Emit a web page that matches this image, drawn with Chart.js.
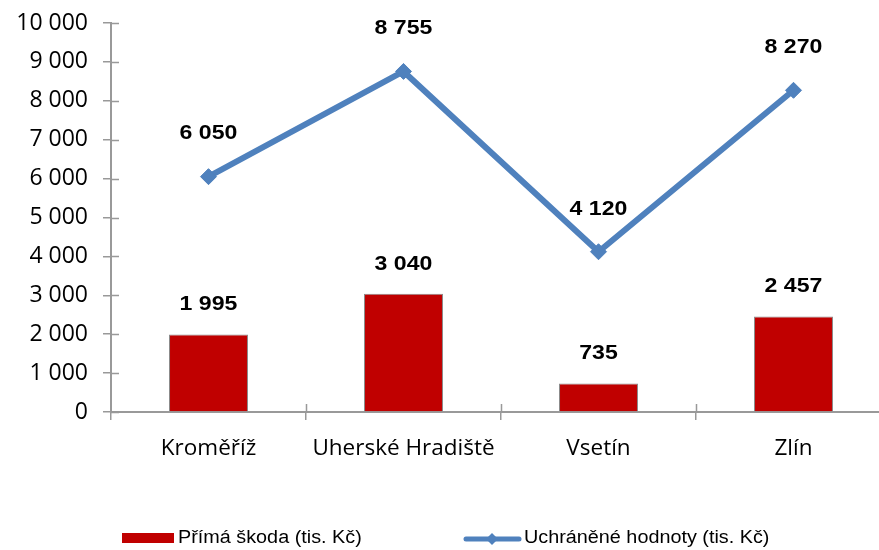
<!DOCTYPE html>
<html lang="cs">
<head>
    <meta charset="UTF-8">
    <title>Škody a uchráněné hodnoty</title>
    <style>
        html, body { margin: 0; padding: 0; background: #fff; overflow: hidden; }
        #wrap { width: 900px; height: 550px; }
    </style>
</head>
<body>
    <div id="wrap">
        <canvas id="chart" width="900" height="550"></canvas>
    </div>
    <script src="https://cdn.jsdelivr.net/npm/chart.js@4/dist/chart.umd.min.js"></script>
    <script>
        const categories = ['Kroměříž', 'Uherské Hradiště', 'Vsetín', 'Zlín']
        const primaSkoda = [1995, 3040, 735, 2457]
        const uchraneneHodnoty = [6050, 8755, 4120, 8270]
        const yTicks = [0, 1000, 2000, 3000, 4000, 5000, 6000, 7000, 8000, 9000, 10000]

        const seriesNames = ['Přímá škoda (tis. Kč)', 'Uchráněné hodnoty (tis. Kč)']
        const barColor = '#C00000'
        const lineColor = '#4F81BD'
        const axisColor = '#999999'

        function fmt(v){
            return String(v).replace(/\B(?=(\d{3})+(?!\d))/g, ' ')
        }

        function stretchText(ctx, text, x, y, sx, align){
            ctx.save()
            ctx.translate(x, y)
            ctx.scale(sx, 1)
            ctx.textAlign = align
            ctx.fillText(text, 0, 0)
            ctx.restore()
        }

        // hodnoty nad body a sloupci
        const valueLabels = {
            id: 'valueLabels',
            afterDatasetsDraw(chart){
                const ctx = chart.ctx
                ctx.save()
                ctx.font = 'bold 21px "Liberation Sans", Arial, sans-serif'
                ctx.fillStyle = '#000'
                ctx.textBaseline = 'middle'
                chart.data.datasets.forEach((ds, i) => {
                    const meta = chart.getDatasetMeta(i)
                    const off = ds.type === 'line' ? 43 : 30
                    meta.data.forEach((el, j) => {
                        stretchText(ctx, fmt(ds.data[j]), el.x, el.y - off, 1.1, 'center')
                    })
                })
                ctx.restore()
            }
        }

        // krátké značky přes osy (dovnitř grafu)
        const innerTicks = {
            id: 'innerTicks',
            afterDraw(chart){
                const ctx = chart.ctx
                const area = chart.chartArea
                const y = chart.scales.y
                ctx.save()
                ctx.strokeStyle = axisColor
                ctx.lineWidth = 1.5
                ctx.beginPath()
                yTicks.forEach(t => {
                    const py = Math.round(y.getPixelForValue(t)) + 0.5
                    ctx.moveTo(area.left, py)
                    ctx.lineTo(area.left + 8, py)
                })
                const step = (area.right - area.left) / categories.length
                for(let k = 1; k < categories.length; k++){
                    const px = Math.round(area.left + step * k) + 0.5
                    ctx.moveTo(px, area.bottom)
                    ctx.lineTo(px, area.bottom - 8)
                }
                ctx.stroke()
                ctx.restore()
            }
        }

        // vlastní legenda dole
        const bottomLegend = {
            id: 'bottomLegend',
            afterDraw(chart){
                const ctx = chart.ctx
                const cy = 538
                ctx.save()
                ctx.fillStyle = barColor
                ctx.fillRect(122, cy - 5, 52, 10)
                ctx.strokeStyle = lineColor
                ctx.lineWidth = 5
                ctx.lineCap = 'round'
                ctx.beginPath()
                ctx.moveTo(466, cy + 1)
                ctx.lineTo(519, cy + 1)
                ctx.stroke()
                ctx.fillStyle = lineColor
                ctx.beginPath()
                ctx.moveTo(492, cy - 5)
                ctx.lineTo(498, cy + 1)
                ctx.lineTo(492, cy + 7)
                ctx.lineTo(486, cy + 1)
                ctx.closePath()
                ctx.fill()
                ctx.font = '18px "Liberation Sans", Arial, sans-serif'
                ctx.fillStyle = '#000'
                ctx.textBaseline = 'middle'
                stretchText(ctx, seriesNames[0], 178, cy, 1.1, 'left')
                stretchText(ctx, seriesNames[1], 524, cy, 1.1, 'left')
                ctx.restore()
            }
        }

        new Chart(document.getElementById('chart'), {
            type: 'bar',
            data: {
                labels: categories,
                datasets: [
                    {
                        type: 'line',
                        label: seriesNames[1],
                        data: uchraneneHodnoty,
                        borderColor: lineColor,
                        backgroundColor: lineColor,
                        borderWidth: 6,
                        pointStyle: 'rectRot',
                        pointRadius: 8,
                        pointBorderWidth: 1,
                        tension: 0,
                        order: 0
                    },
                    {
                        type: 'bar',
                        label: seriesNames[0],
                        data: primaSkoda,
                        backgroundColor: barColor,
                        borderColor: '#8a8a8a',
                        borderWidth: 1,
                        barPercentage: 0.405,
                        categoryPercentage: 1,
                        order: 1
                    }
                ]
            },
            options: {
                responsive: false,
                animation: false,
                layout: { padding: { left: 2, top: 23, right: 5, bottom: 0 } },
                plugins: {
                    legend: { display: false },
                    tooltip: { enabled: false }
                },
                scales: {
                    x: {
                        offset: true,
                        grid: { offset: true, drawOnChartArea: false, tickLength: 8, color: axisColor, lineWidth: 1.5 },
                        border: { color: axisColor, width: 2 },
                        ticks: {
                            padding: 15,
                            color: '#000',
                            font: { family: '"Open Sans", sans-serif', size: 22.5 }
                        },
                        afterFit(scale){
                            scale.height = 138
                            scale.paddingLeft = 0
                            scale.paddingRight = 0
                        }
                    },
                    y: {
                        min: 0,
                        max: 10000,
                        afterBuildTicks(scale){ scale.ticks = yTicks.map(v => ({ value: v })) },
                        grid: { drawOnChartArea: false, tickLength: 8, color: axisColor, lineWidth: 1.5 },
                        border: { color: axisColor, width: 2 },
                        ticks: {
                            padding: 15,
                            color: '#000',
                            font: { family: '"Open Sans", sans-serif', size: 23 },
                            callback: v => fmt(v)
                        },
                        afterFit(scale){
                            scale.width = 109
                            scale.paddingTop = 0
                            scale.paddingBottom = 0
                        }
                    }
                }
            },
            plugins: [valueLabels, innerTicks, bottomLegend]
        })
    </script>
</body>
</html>
